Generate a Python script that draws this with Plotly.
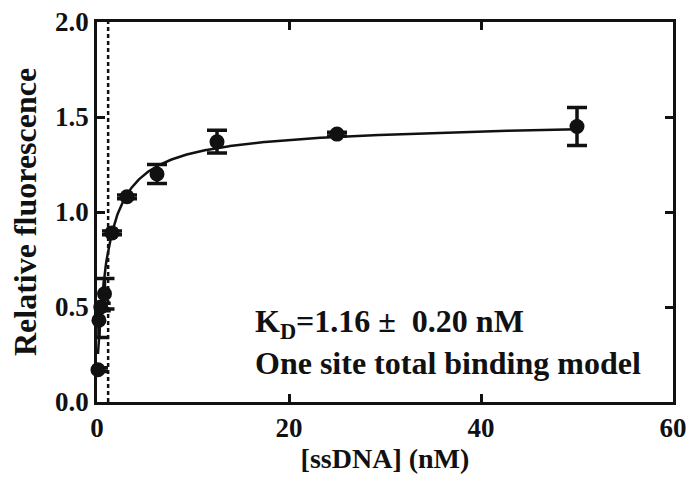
import numpy as np
import plotly.graph_objects as go

# Data
conc_nM = [0.1, 0.2, 0.39, 0.78, 1.56, 3.125, 6.25, 12.5, 25, 50]
rel_fluor = [0.17, 0.43, 0.50, 0.57, 0.89, 1.08, 1.20, 1.37, 1.41, 1.45]
rel_err = [0.01, 0.09, 0.02, 0.08, 0.01, 0.01, 0.05, 0.06, 0.01, 0.10]

x_ticks = [0, 20, 40, 60]
y_ticks = [0.0, 0.5, 1.0, 1.5, 2.0]
y_tick_text = ["0.0", "0.5", "1.0", "1.5", "2.0"]

# One site total binding fit parameters
kd = 1.16
kd_err = 0.20
bmax = 1.29
ns = 0.0005
background = 0.15

x_fit = np.linspace(0.1, 50, 600)
y_fit = background + bmax * x_fit / (kd + x_fit) + ns * x_fit

FONT = "Liberation Serif"
INK = "#111"
fig = go.Figure()

fig.add_trace(go.Scatter(
    x=[kd, kd], y=[0, 2], mode="lines",
    line=dict(color=INK, width=2.5, dash="4px,3px"),
    hoverinfo="skip", showlegend=False))

fig.add_trace(go.Scatter(
    x=x_fit, y=y_fit, mode="lines",
    line=dict(color=INK, width=2.5),
    showlegend=False))

fig.add_trace(go.Scatter(
    x=conc_nM, y=rel_fluor, mode="markers", cliponaxis=False,
    marker=dict(color=INK, size=15),
    error_y=dict(type="data", array=rel_err, visible=True,
                 color=INK, thickness=3.5, width=10),
    showlegend=False))

PLOT_L, PLOT_R, PLOT_T, PLOT_B = 97, 673, 22, 402

fig.add_annotation(
    x=(253 - PLOT_L) / (PLOT_R - PLOT_L), y=(PLOT_B - 342) / (PLOT_B - PLOT_T),
    xref="paper", yref="paper", showarrow=False,
    text=f"<b>K<sub>D</sub>={kd:.2f} ±  {kd_err:.2f} nM<br>One site total binding model</b>",
    align="left", xanchor="left", yanchor="middle",
    font=dict(family=FONT, size=32, color=INK))

# y-axis title
fig.add_annotation(
    x=(25 - PLOT_L) / (PLOT_R - PLOT_L), y=0.5,
    xref="paper", yref="paper", showarrow=False, textangle=-90,
    text="<b>Relative fluorescence</b>",
    xanchor="center", yanchor="middle",
    font=dict(family=FONT, size=32, color=INK))

axis_common = dict(
    showline=True, linecolor=INK, linewidth=2.5, mirror="ticks",
    ticks="inside", ticklen=8, tickwidth=2.5, tickcolor=INK,
    showgrid=False, zeroline=False, automargin=False,
    tickfont=dict(family=FONT, size=27, color=INK),
)

fig.update_layout(
    width=688, height=482,
    margin=dict(l=PLOT_L, r=688 - PLOT_R, t=PLOT_T, b=482 - PLOT_B),
    plot_bgcolor="white", paper_bgcolor="white",
    xaxis=dict(range=[0, 60], tickvals=x_ticks,
               ticktext=[f"<b>{v}</b>" for v in x_ticks],
               title=dict(text="<b>[ssDNA] (nM)</b>", standoff=6,
                          font=dict(family=FONT, size=28, color=INK)),
               **axis_common),
    yaxis=dict(range=[0, 2], tickvals=y_ticks,
               ticktext=[f"<b>{t}</b>" for t in y_tick_text],
               **axis_common),
)

fig.write_html("out.html")
